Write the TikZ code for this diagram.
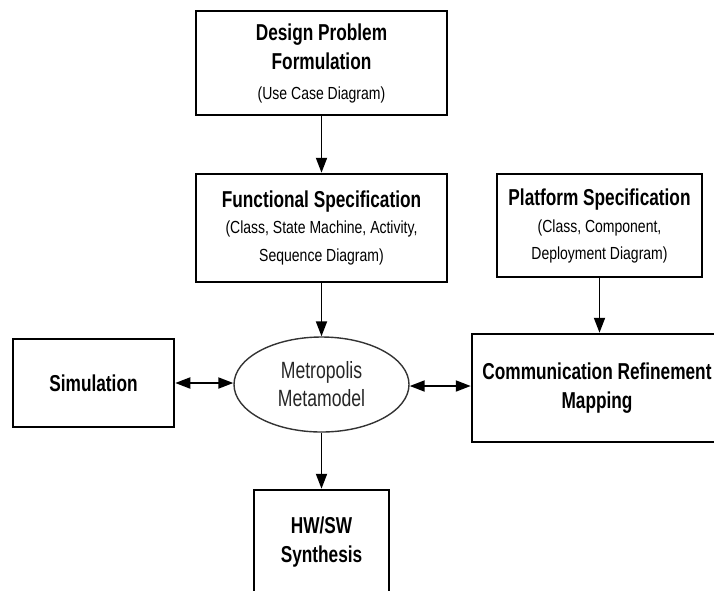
\documentclass[tikz,border=0pt]{standalone}
\usepackage{fontspec}
\setmainfont{Liberation Sans}[FakeStretch=0.75]
\newfontfamily\subfam{Liberation Sans}[FakeStretch=0.8]
\usetikzlibrary{arrows.meta,shapes.geometric}
\newcommand{\bigf}{\fontsize{23}{29}\selectfont\bfseries}
\newcommand{\subf}{\subfam\fontsize{17.5}{24}\selectfont\mdseries}
\tikzset{
  boxnode/.style={draw=black, line width=2.5pt, rectangle, inner sep=0pt, align=center, font=\bigf},
  arr/.style={line width=1.9pt, -{Triangle[length=15pt,width=11pt]}},
  darr/.style={line width=1.9pt, {Triangle[length=15pt,width=11pt]}-{Triangle[length=15pt,width=11pt]}},
}
\begin{document}
\begin{tikzpicture}[x=1pt,y=-1pt]
\useasboundingbox (0,0) rectangle (714,590);
\node[boxnode, minimum width=251pt, minimum height=104pt] (design) at (321.5,63)
  {Design Problem\\Formulation\\[1pt]{\subf (Use Case Diagram)}};
\node[boxnode, minimum width=251pt, minimum height=108pt] (func) at (321.5,228)
  {Functional Specification\\[-3pt]{\subf (Class, State Machine, Activity,}\\[-1pt]{\subf Sequence Diagram)}};
\node[boxnode, minimum width=205pt, minimum height=103pt] (plat) at (599.5,225.5)
  {Platform Specification\\[-2pt]{\subf (Class, Component,}\\[-2pt]{\subf Deployment Diagram)}};
\node[boxnode, minimum width=161pt, minimum height=88pt] (sim) at (93.5,383) {Simulation};
\node[draw=black!80, line width=1.4pt, ellipse, minimum width=175pt, minimum height=95pt, inner sep=0pt,
      align=center, text=black!85, font=\fontsize{23.5}{28}\selectfont] (ell) at (321.5,384.5)
  {Metropolis\\Metamodel};
\node[boxnode, minimum width=250pt, minimum height=108pt] (comm) at (597,388)
  {Communication Refinement\\Mapping};
\node[boxnode, minimum width=135pt, minimum height=104pt] (hw) at (321.5,542)
  {HW/SW\\Synthesis};
\draw[arr] (design) -- (func);
\draw[arr] (func) -- (ell);
\draw[arr] (plat) -- (plat |- comm.north);
\draw[arr] (ell) -- (hw);
\draw[darr] (sim.east) -- (ell.west |- sim.east);
\draw[darr] (ell.east |- 0,386) -- (comm.west |- 0,386);
\end{tikzpicture}
\end{document}
